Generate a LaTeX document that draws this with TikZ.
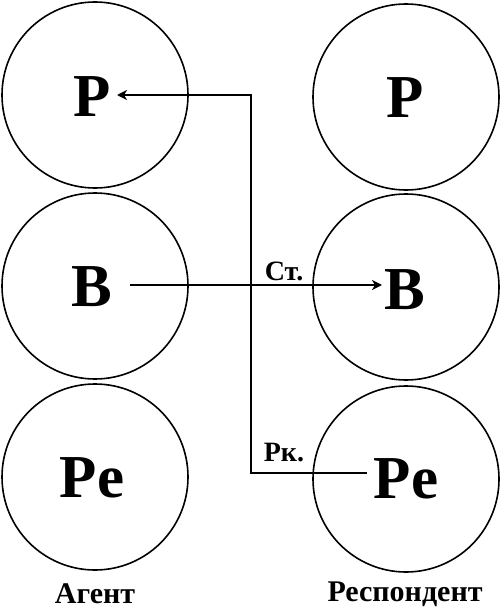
\documentclass[tikz,border=0pt]{standalone}
\usepackage{fontspec}
\setmainfont{Liberation Serif}
\usetikzlibrary{arrows.meta}
\begin{document}
\begin{tikzpicture}[x=1pt,y=-1pt,
  role/.style={circle,draw,line width=1.6pt,minimum size=186pt,inner sep=0pt},
  big/.style={font=\fontsize{61}{64}\selectfont\bfseries,inner sep=2pt},
  lbl/.style={font=\fontsize{28}{30}\selectfont\bfseries,inner sep=0pt},
  foot/.style={font=\fontsize{30}{32}\selectfont\bfseries},
  conn/.style={line width=1.7pt},
  tip/.style={-{Stealth[length=10pt,width=10pt,inset=3pt]}}]
\useasboundingbox (0,0) rectangle (500,615);
\node[role] (LP) at (95,95) {};
\node[role] (LB) at (95,286) {};
\node[role] (LR) at (95,477) {};
\node[role] (RP) at (406,97) {};
\node[role] (RB) at (406,287) {};
\node[role] (RR) at (406,479) {};
\node[big] (tLP) at (92,97) {P};
\node[big] (tLB) at (92,287) {B};
\node[big] (tLR) at (92,478) {Pe};
\node[big] (tRP) at (405,98) {P};
\node[big] (tRB) at (405,290) {B};
\node[big] (tRR) at (406,479) {Pe};
\coordinate (bstart) at (130,285);
\coordinate (bend) at (382,285);
\coordinate (ptip) at (117,95);
\coordinate (top) at (251,95);
\coordinate (bot) at (251,473);
\coordinate (rstart) at (367,473);
\draw[conn,tip] (bstart) -- (bend);
\draw[conn,tip] (rstart) -- (bot) -- (top) -- (ptip);
\node[lbl] (st) at (284,271) {Ст.};
\node[lbl] (rk) at (284,453) {Рк.};
\node[foot] (ag) at (95,594) {Агент};
\node[foot] (resp) at (405,594) {Респондент};
\end{tikzpicture}
\end{document}
